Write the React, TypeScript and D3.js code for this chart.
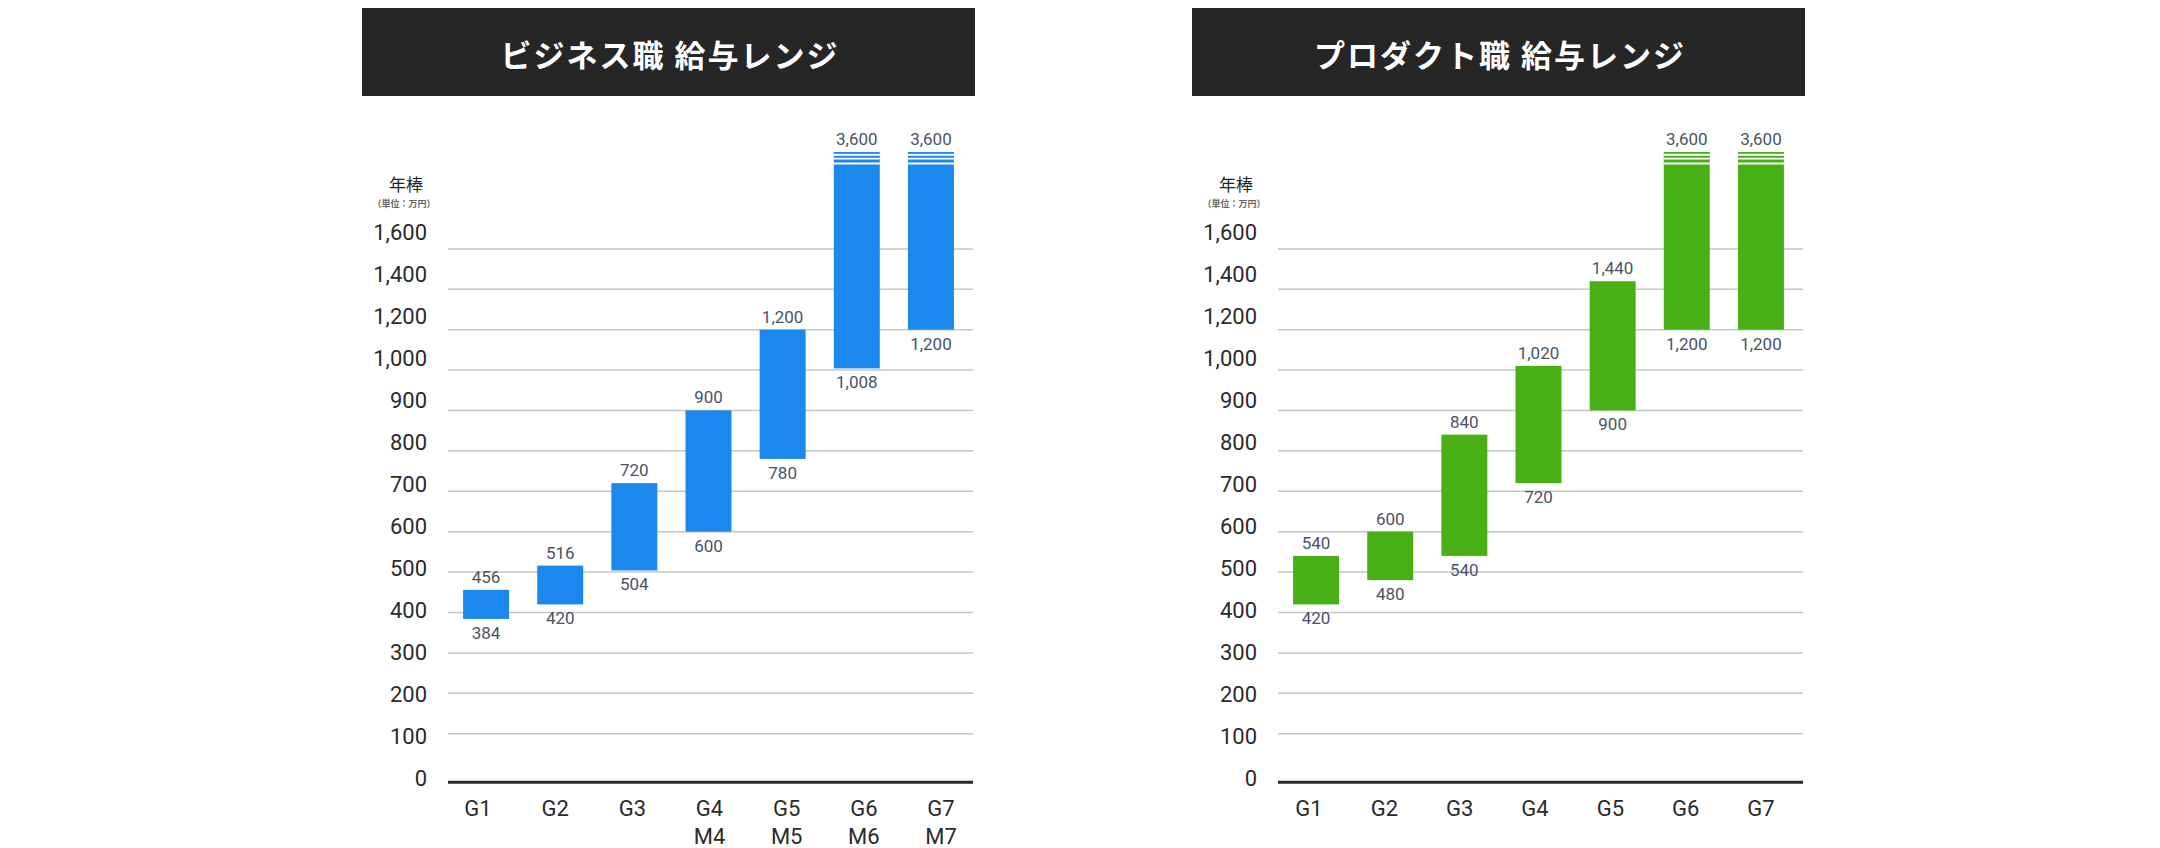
import React from "react";
import * as d3 from "d3";

const categories = ["G1", "G2", "G3", "G4", "G5", "G6", "G7"];
const bizSubLabels = ["", "", "", "M4", "M5", "M6", "M7"];
const prodSubLabels = ["", "", "", "", "", "", ""];
const bizLow = [384, 420, 504, 600, 780, 1008, 1200];
const bizHigh = [456, 516, 720, 900, 1200, 3600, 3600];
const prodLow = [420, 480, 540, 720, 900, 1200, 1200];
const prodHigh = [540, 600, 840, 1020, 1440, 3600, 3600];
const yTicks = [0, 100, 200, 300, 400, 500, 600, 700, 800, 900, 1000, 1200, 1400, 1600];
const bizTitle = "ビジネス職 給与レンジ";
const prodTitle = "プロダクト職 給与レンジ";
const axisTitle = "年棒";
const unitLabel = "（単位：万円）";

const W = 2160;
const H = 848;
const FONT = "Roboto, 'Noto Sans CJK JP', sans-serif";
const fmt = d3.format(",");

// broken vertical scale: 0-100 segment, 100-1000 step, 1000-1600 step of 200, and a break up to 3600
const yScale = d3
  .scaleLinear()
  .domain([0, 100, 1000, 1600, 3600])
  .range([782.3, 733.7, 370, 249, 152]);

// tick labels are laid out evenly
const labelY = d3.scaleLinear().domain([0, yTicks.length - 1]).range([778.3, 232]);

interface ChartProps {
  x0: number;
  title: string;
  color: string;
  low: number[];
  high: number[];
  subLabels: string[];
  labelRange: [number, number];
}

function Chart({ x0, title, color, low, high, subLabels, labelRange }: ChartProps) {
  const gridLeft = x0 + 448;
  const gridRight = x0 + 973;
  const xBand = d3
    .scaleBand<string>()
    .domain(categories)
    .range([x0 + 449, x0 + 968])
    .paddingInner(0.38)
    .paddingOuter(0.19);
  const xLabel = d3
    .scalePoint<string>()
    .domain(categories)
    .range([x0 + labelRange[0], x0 + labelRange[1]]);
  const bw = xBand.bandwidth();

  return (
    <g>
      <rect x={x0 + 362} y={8} width={613} height={88} fill="#262626" />
      <text
        x={x0 + 670}
        y={53}
        textAnchor="middle"
        dominantBaseline="central"
        fill="#ffffff"
        fontSize={31}
        fontWeight={700}
        letterSpacing={2}
        fontFamily="'Noto Sans CJK JP', sans-serif"
      >
        {title}
      </text>

      <text
        x={x0 + 406}
        y={183}
        textAnchor="middle"
        dominantBaseline="central"
        fill="#222"
        fontSize={17}
        fontWeight={400}
        fontFamily="'Noto Sans CJK JP', sans-serif"
      >
        {axisTitle}
      </text>
      <text
        x={x0 + 404}
        y={203.5}
        textAnchor="middle"
        dominantBaseline="central"
        fill="#666"
        fontSize={9}
        fontWeight={700}
        fontFamily="'Noto Sans CJK JP', sans-serif"
      >
        {unitLabel}
      </text>

      {yTicks.map((t, i) => (
        <g key={t}>
          {t !== 0 && (
            <line
              x1={gridLeft}
              x2={gridRight}
              y1={yScale(t)}
              y2={yScale(t)}
              stroke="#c6c6c6"
              strokeWidth={1.5}
            />
          )}
          <text
            x={x0 + 427}
            y={labelY(i)}
            textAnchor="end"
            dominantBaseline="central"
            fill="#2b2b2b"
            fontSize={22}
            fontFamily={FONT}
          >
            {fmt(t)}
          </text>
        </g>
      ))}

      {categories.map((c, i) => {
        const yTop = yScale(high[i]);
        const yBot = yScale(low[i]);
        const bx = xBand(c) as number;
        const broken = high[i] > 1600;
        return (
          <g key={c}>
            <rect x={bx} y={yTop} width={bw} height={yBot - yTop} fill={color} />
            {broken &&
              [
                [1.8, 2],
                [5.8, 1.7],
                [10.5, 2],
              ].map(([dy, h], k) => (
                <rect key={k} x={bx} y={yTop + dy} width={bw} height={h} fill="#ffffff" />
              ))}
            <text
              x={bx + bw / 2}
              y={yTop - 13}
              textAnchor="middle"
              dominantBaseline="central"
              fill="#4a5365"
              fontSize={17}
              fontWeight={400}
              fontFamily={FONT}
            >
              {fmt(high[i])}
            </text>
            <text
              x={bx + bw / 2}
              y={yBot + 14}
              textAnchor="middle"
              dominantBaseline="central"
              fill="#4a5365"
              fontSize={17}
              fontWeight={400}
              fontFamily={FONT}
            >
              {fmt(low[i])}
            </text>
          </g>
        );
      })}

      <line
        x1={gridLeft}
        x2={gridRight}
        y1={yScale(0)}
        y2={yScale(0)}
        stroke="#2a2a2a"
        strokeWidth={3}
      />

      {categories.map((c, i) => (
        <g key={"xl" + c}>
          <text
            x={xLabel(c)}
            y={808}
            textAnchor="middle"
            dominantBaseline="central"
            fill="#2b2b2b"
            fontSize={22}
            fontFamily={FONT}
          >
            {c}
          </text>
          {subLabels[i] && (
            <text
              x={xLabel(c)}
              y={836.7}
              textAnchor="middle"
              dominantBaseline="central"
              fill="#2b2b2b"
              fontSize={22}
              fontFamily={FONT}
            >
              {subLabels[i]}
            </text>
          )}
        </g>
      ))}
    </g>
  );
}

export default function App() {
  return (
    <svg
      width={W}
      height={H}
      viewBox={`0 0 ${W} ${H}`}
      style={{ position: "absolute", left: 0, top: 0, background: "#fff" }}
    >
      <rect x={0} y={0} width={W} height={H} fill="#ffffff" />
      <Chart
        x0={0}
        title={bizTitle}
        color="#1a88ec"
        low={bizLow}
        high={bizHigh}
        subLabels={bizSubLabels}
        labelRange={[478, 941]}
      />
      <Chart
        x0={830}
        title={prodTitle}
        color="#48b015"
        low={prodLow}
        high={prodHigh}
        subLabels={prodSubLabels}
        labelRange={[479, 931]}
      />
    </svg>
  );
}
